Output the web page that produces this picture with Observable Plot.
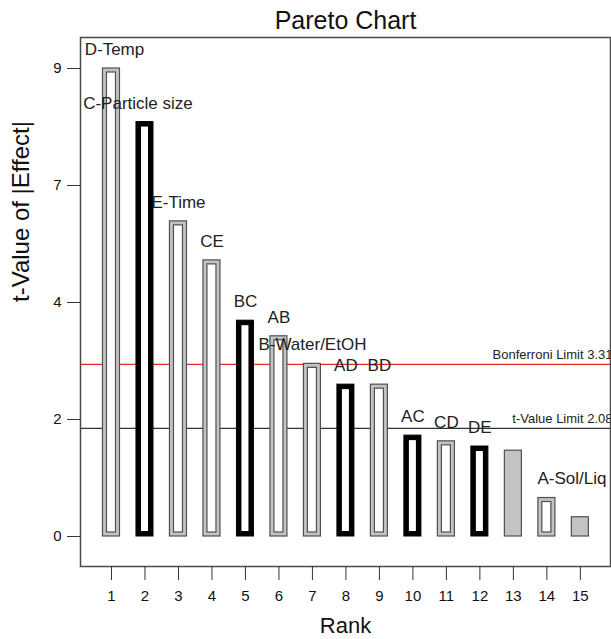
<!DOCTYPE html>
<html>
<head>
<meta charset="utf-8">
<script src="https://cdn.jsdelivr.net/npm/d3@7"></script>
<script src="https://cdn.jsdelivr.net/npm/@observablehq/plot@0.6"></script>
<style>
  html, body { margin: 0; padding: 0; background: #fff; }
  svg { display: block; }
</style>
</head>
<body>
<div id="chart"></div>
<script>
// ---- data ----
const ranks   = [1, 2, 3, 4, 5, 6, 7, 8, 9, 10, 11, 12, 13, 14, 15];
const terms   = ["D-Temp", "C-Particle size", "E-Time", "CE", "BC", "AB", "B-Water/EtOH", "AD", "BD", "AC", "CD", "DE", "", "A-Sol/Liq", ""];
const tValues = [9.0, 7.97, 6.06, 5.31, 4.15, 3.85, 3.32, 2.92, 2.92, 1.94, 1.83, 1.73, 1.65, 0.74, 0.37];
// effect kind: "pos" = grey outlined bar, "neg" = black outlined bar, "out" = solid grey (not in model)
const kinds   = ["pos", "neg", "pos", "pos", "neg", "pos", "pos", "neg", "pos", "neg", "pos", "neg", "out", "pos", "out"];

const limitValues = [3.31, 2.08];
const limitLabels = ["Bonferroni Limit 3.31", "t-Value Limit 2.08"];

const yTickValues = [0, 2.25, 4.5, 6.75, 9];
const yTickLabels = ["0", "2", "4", "7", "9"];
const xTickValues = ranks;

const data = ranks.map((r, i) => ({rank: r, term: terms[i], t: tValues[i], kind: kinds[i]}));
const limits = limitValues.map((v, i) => ({v, label: limitLabels[i], color: i === 0 ? "#e8262b" : "#333333"}));

const hw = 0.254; // half bar width in rank units
const FONT = "Liberation Sans, Arial, Helvetica, sans-serif";

const labelled = data.filter(d => d.term !== "");
const nudged = {"D-Temp": 3, "C-Particle size": -7, "A-Sol/Liq": 25};

const chart = Plot.plot({
  width: 611,
  height: 639,
  marginLeft: 80,
  marginRight: 1,
  marginTop: 37,
  marginBottom: 73,
  style: {fontFamily: FONT, color: "#111", background: "#fff"},
  x: {domain: [0.075, 15.9], axis: null},
  y: {domain: [-0.577, 9.596], axis: null},
  marks: [
    // limit lines (behind bars)
    ...limits.map(l => Plot.ruleY([l.v], {stroke: l.color, strokeWidth: 1.2})),
    // outer bars
    Plot.rect(data.filter(d => d.kind === "pos" || d.kind === "out"), {
      x1: d => d.rank - hw, x2: d => d.rank + hw, y1: 0, y2: "t",
      fill: "#c3c3c3", stroke: "#505050", strokeWidth: 1.2
    }),
    Plot.rect(data.filter(d => d.kind === "neg"), {
      x1: d => d.rank - hw, x2: d => d.rank + hw, y1: 0, y2: "t",
      fill: "#000", stroke: "#000", strokeWidth: 1
    }),
    // inner white
    Plot.rect(data.filter(d => d.kind === "pos"), {
      x1: d => d.rank - hw, x2: d => d.rank + hw, y1: 0, y2: "t", inset: 4,
      fill: "#fff", stroke: "#505050", strokeWidth: 1.2
    }),
    Plot.rect(data.filter(d => d.kind === "neg"), {
      x1: d => d.rank - hw, x2: d => d.rank + hw, y1: 0, y2: "t", inset: 5,
      fill: "#fff", stroke: "none"
    }),
    // term labels
    Plot.text(labelled.filter(d => !(d.term in nudged)), {
      x: "rank", y: "t", text: "term", dy: -19, fontSize: 17, fill: "#222", lineAnchor: "middle"
    }),
    ...labelled.filter(d => d.term in nudged).map(d => Plot.text([d], {
      x: "rank", y: "t", text: "term", dy: -19, dx: nudged[d.term], fontSize: 17, fill: "#222", lineAnchor: "middle"
    })),
    // limit labels
    ...limits.map(l => Plot.text([l], {
      y: "v", frameAnchor: "right", text: "label", textAnchor: "end", dx: 2, dy: -10,
      fontSize: 13, fill: "#222", lineAnchor: "middle"
    })),
    // frame
    Plot.frame({stroke: "#4a4a4a", strokeWidth: 1.5}),
    // axes
    Plot.axisY(yTickValues, {
      anchor: "left", tickSize: 13, tickPadding: 6, fontSize: 15, stroke: "#333",
      tickFormat: (v) => yTickLabels[yTickValues.indexOf(v)], label: null
    }),
    Plot.axisX(xTickValues, {
      anchor: "bottom", tickSize: 14, tickPadding: 10, fontSize: 15, stroke: "#333",
      tickFormat: d => String(d), label: null
    }),
    // titles
    Plot.text(["Pareto Chart"], {frameAnchor: "top", dy: -17, fontSize: 25, fill: "#111", lineAnchor: "middle"}),
    Plot.text(["Rank"], {frameAnchor: "bottom", dy: 59, fontSize: 22, fill: "#111", lineAnchor: "middle"}),
    Plot.text(["t-Value of |Effect|"], {frameAnchor: "left", dx: -59, rotate: -90, fontSize: 24, fill: "#111", lineAnchor: "middle"})
  ]
});
document.getElementById("chart").appendChild(chart);
</script>
</body>
</html>
